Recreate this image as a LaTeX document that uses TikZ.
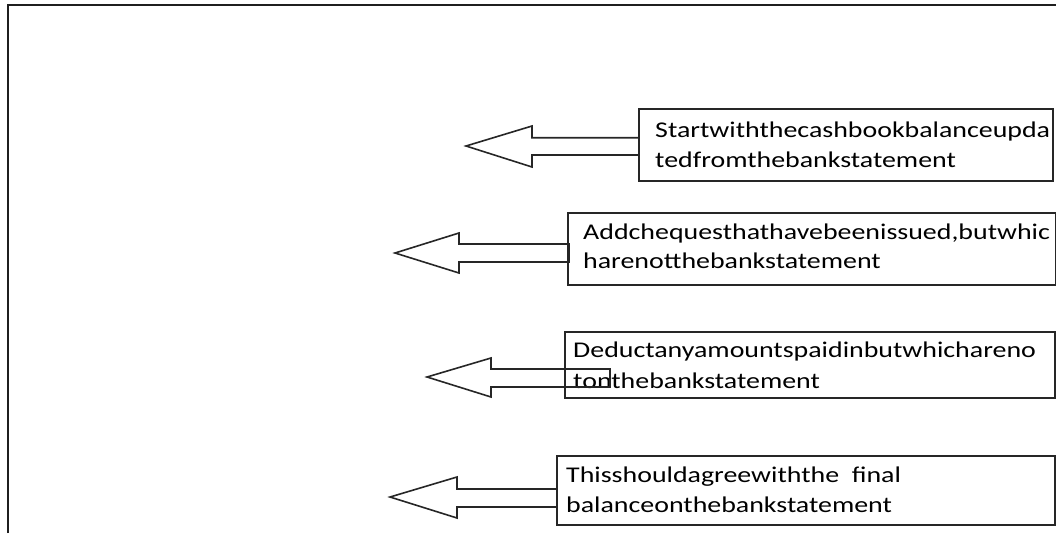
\documentclass[tikz,border=0pt]{standalone}
\usepackage{fontspec}
\setmainfont[FakeStretch=1.24]{Carlito}
\begin{document}
\begin{tikzpicture}[x=1pt,y=-1pt,
  frame/.style={draw=black!88,line width=2.8pt},
  box/.style={draw=black!85,line width=2.1pt},
  blockarrow/.style={draw=black!85,line width=1.6pt,line join=miter},
  txt/.style={anchor=base west,inner sep=0pt,font=\fontsize{22.5}{30}\selectfont}]
\useasboundingbox (0,0) rectangle (1056,533);
% outer frame
\coordinate (fl) at (8,533);
\coordinate (fc) at (8,5);
\coordinate (fr) at (1057,5);
\draw[frame] (fl) -- (fc) -- (fr);
% boxes
\draw[box] (639,109) rectangle (1053,181);
\draw[box] (568,213) rectangle (1056,285);
\draw[box] (565,332) rectangle (1055,398);
\draw[box] (557,456) rectangle (1055,525);
% texts
\node[txt] (t1a) at (655,137.7) {Startwiththecashbookbalanceupda};
\node[txt] (t1b) at (655,167) {tedfromthebankstatement};
\node[txt] (t2a) at (583,239) {Addchequesthathavebeenissued,butwhic};
\node[txt] (t2b) at (583,268) {harenotthebankstatement};
\node[txt] (t3a) at (573,357) {Deductanyamountspaidinbutwhichareno};
\node[txt] (t3b) at (573,388.5) {tonthebankstatement};
\node[txt] (t4a) at (566,482) {Thisshouldagreewiththe\ \ final};
\node[txt] (t4b) at (566,512) {balanceonthebankstatement};
% block arrows
\draw[blockarrow] (466,146) -- (532,126) -- (532,137.7) -- (639,137.7) -- (639,155) -- (532,155) -- (532,167) -- cycle;
\draw[blockarrow] (395,253) -- (459,233) -- (459,244) -- (569,244) -- (569,262) -- (459,262) -- (459,273) -- cycle;
\draw[blockarrow] (427,377) -- (491,358) -- (491,369) -- (610,369) -- (610,387) -- (491,387) -- (491,397) -- cycle;
\draw[blockarrow] (390,497) -- (457,477) -- (457,489) -- (557,489) -- (557,507) -- (457,507) -- (457,518) -- cycle;
\end{tikzpicture}
\end{document}
